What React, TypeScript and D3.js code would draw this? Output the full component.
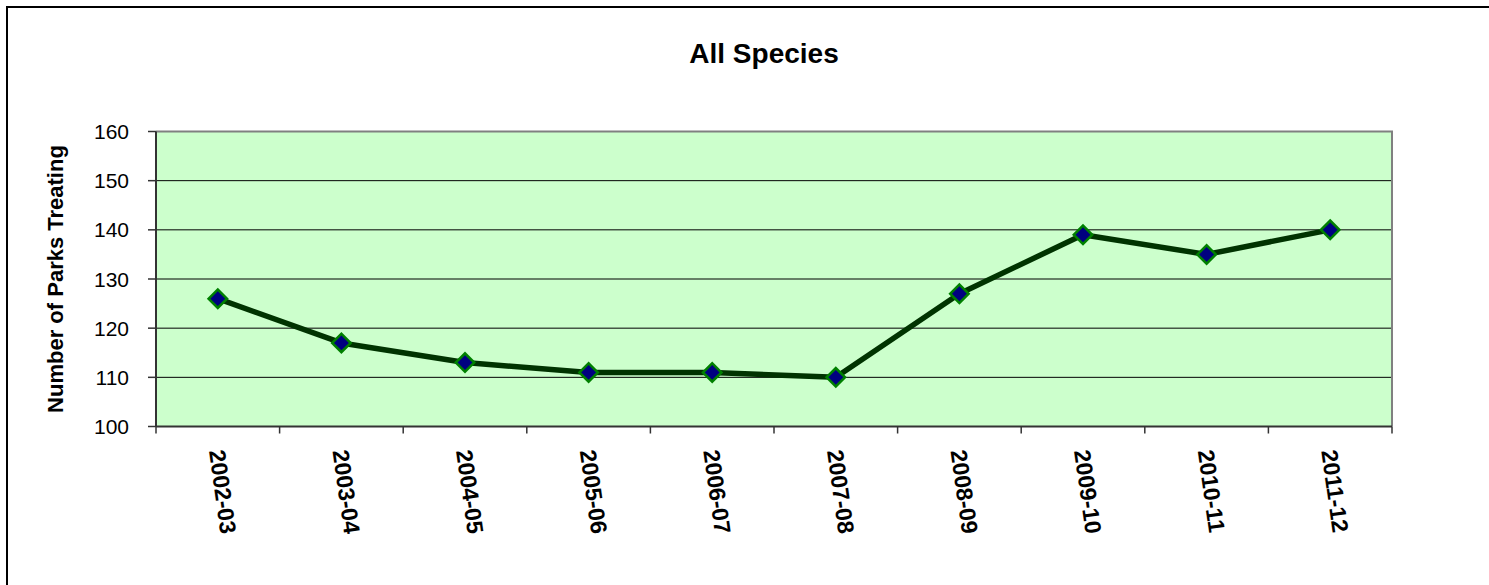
import { line, scaleBand, scaleLinear, symbol, symbolSquare } from "d3";

const categories = [
  "2002-03",
  "2003-04",
  "2004-05",
  "2005-06",
  "2006-07",
  "2007-08",
  "2008-09",
  "2009-10",
  "2010-11",
  "2011-12",
];
const parksTreating = [126, 117, 113, 111, 111, 110, 127, 139, 135, 140];
const yTicks = [100, 110, 120, 130, 140, 150, 160];

const font = "Arial, 'Liberation Sans', sans-serif";

export default function App() {
  const width = 1489;
  const height = 585;
  const left = 156;
  const right = 1392;
  const top = 131.5;
  const bottom = 426.5;

  const x = scaleBand<string>().domain(categories).range([left, right]);
  const y = scaleLinear().domain([100, 160]).range([bottom, top]);
  const cx = (c: string) => (x(c) ?? 0) + x.bandwidth() / 2;

  const data = categories.map((c, i) => ({ c, v: parksTreating[i] }));
  const path =
    line<(typeof data)[number]>()
      .x((d) => cx(d.c))
      .y((d) => y(d.v))(data) ?? "";
  const marker = symbol().type(symbolSquare).size(170)() ?? "";

  return (
    <svg
      width={width}
      height={height}
      style={{ position: "absolute", left: 0, top: 0, background: "#fff" }}
    >
      <rect x={7} y={7} width={1600} height={700} fill="#fff" stroke="#000" strokeWidth={2} />

      <text x={764} y={63} textAnchor="middle" fontFamily={font} fontWeight="bold" fontSize={28}>
        All Species
      </text>

      <rect x={left} y={top} width={right - left} height={bottom - top} fill="#ccffcc" />

      {yTicks.slice(1, -1).map((t) => (
        <line key={t} x1={left} x2={right} y1={y(t)} y2={y(t)} stroke="#000" strokeWidth={1} />
      ))}

      {/* top and right frame */}
      <path
        d={`M${left},${top}H${right}V${bottom}`}
        fill="none"
        stroke="#808080"
        strokeWidth={2}
      />

      {/* axes */}
      <line x1={left} x2={left} y1={top} y2={bottom} stroke="#333" strokeWidth={2} />
      <line x1={left} x2={right} y1={bottom} y2={bottom} stroke="#333" strokeWidth={2} />

      {yTicks.map((t) => (
        <g key={t}>
          <line x1={left - 8} x2={left} y1={y(t)} y2={y(t)} stroke="#333" strokeWidth={1.5} />
          <text
            x={129}
            y={y(t)}
            dy="0.36em"
            textAnchor="end"
            fontFamily={font}
            fontSize={21}
          >
            {t}
          </text>
        </g>
      ))}

      {[...categories.map((c) => x(c) ?? 0), right].map((px, i) => (
        <line key={i} x1={px} x2={px} y1={bottom} y2={bottom + 7} stroke="#333" strokeWidth={1.5} />
      ))}

      {categories.map((c) => (
        <text
          key={c}
          transform={`translate(${cx(c) - 1},450) rotate(82)`}
          dominantBaseline="central"
          fontFamily={font}
          fontWeight="bold"
          fontSize={23}
        >
          {c}
        </text>
      ))}

      <text
        transform={`translate(63,${(top + bottom) / 2}) rotate(-90)`}
        textAnchor="middle"
        fontFamily={font}
        fontWeight="bold"
        fontSize={22}
      >
        Number of Parks Treating
      </text>

      <path d={path} fill="none" stroke="#003300" strokeWidth={5.5} strokeLinejoin="round" />

      {data.map((d) => (
        <path
          key={d.c}
          d={marker}
          transform={`translate(${cx(d.c)},${y(d.v)}) rotate(45)`}
          fill="#000080"
          stroke="#008000"
          strokeWidth={2.5}
        />
      ))}
    </svg>
  );
}
